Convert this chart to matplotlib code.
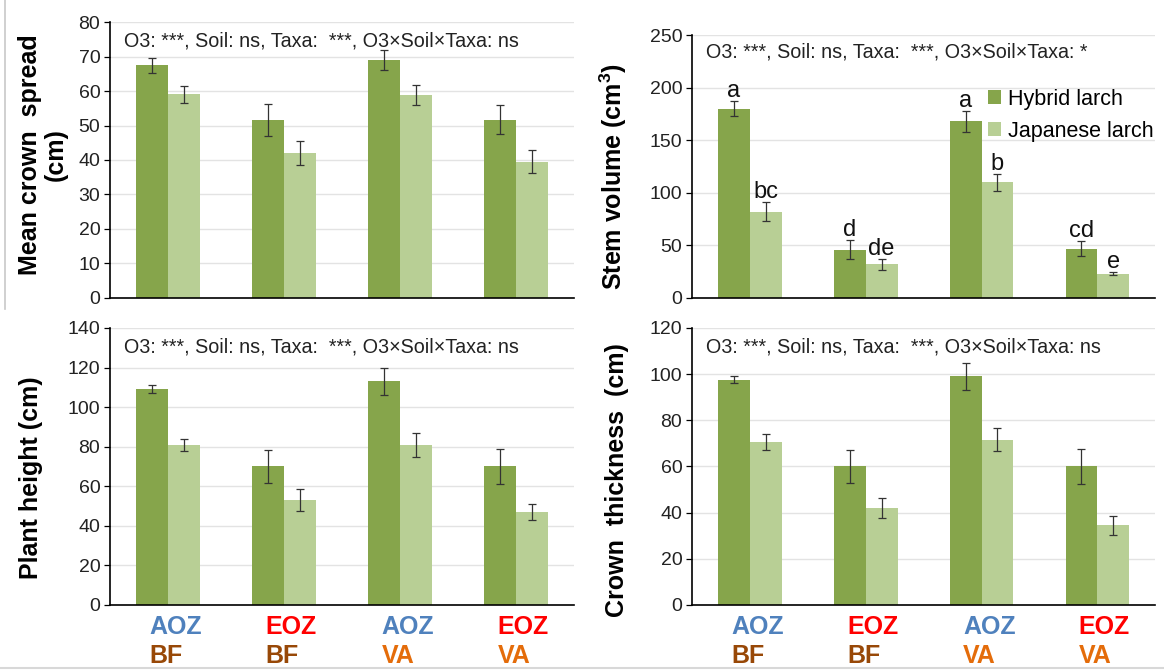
import matplotlib
matplotlib.use("Agg")
import matplotlib.pyplot as plt
from matplotlib.lines import Line2D
import numpy as np

plt.rcParams['font.family'] = ['Liberation Sans', 'DejaVu Sans']
plt.rcParams['mathtext.fontset'] = 'custom'
plt.rcParams['mathtext.rm'] = 'Liberation Sans'
plt.rcParams['mathtext.bf'] = 'Liberation Sans:bold'

groups = ["AOZ\nBF", "EOZ\nBF", "AOZ\nVA", "EOZ\nVA"]
o3_labels = ["AOZ", "EOZ", "AOZ", "EOZ"]
soil_labels = ["BF", "BF", "VA", "VA"]
series_names = ["Hybrid larch", "Japanese larch"]

# Mean crown spread (cm)
spread_hybrid = [67.5, 51.7, 69.0, 51.7]
spread_hybrid_err = [2.2, 4.6, 2.8, 4.3]
spread_japan = [59.0, 42.0, 58.8, 39.5]
spread_japan_err = [2.4, 3.5, 2.9, 3.4]

# Stem volume (cm3)
volume_hybrid = [180, 46, 168, 47]
volume_hybrid_err = [7, 9, 10, 7]
volume_japan = [82, 32, 110, 23]
volume_japan_err = [9, 5, 8, 1.5]
volume_letters_hybrid = ["a", "d", "a", "cd"]
volume_letters_japan = ["bc", "de", "b", "e"]

# Plant height (cm)
height_hybrid = [109, 70, 113, 70]
height_hybrid_err = [2, 8.5, 7, 9]
height_japan = [81, 53, 81, 47]
height_japan_err = [3, 5.5, 6, 4]

# Crown thickness (cm)
thick_hybrid = [97.5, 60, 99, 60]
thick_hybrid_err = [1.5, 7, 6, 7.5]
thick_japan = [70.5, 42, 71.5, 34.5]
thick_japan_err = [3.5, 4.5, 5, 4]

stats_texts = [
    "O3: ***, Soil: ns, Taxa:  ***, O3×Soil×Taxa: ns",
    "O3: ***, Soil: ns, Taxa:  ***, O3×Soil×Taxa: *",
    "O3: ***, Soil: ns, Taxa:  ***, O3×Soil×Taxa: ns",
    "O3: ***, Soil: ns, Taxa:  ***, O3×Soil×Taxa: ns",
]

C_H = "#86A54B"
C_J = "#B8CF95"
o3_colors = {"AOZ": "#4F81BD", "EOZ": "#FF0000"}
soil_colors = {"BF": "#984807", "VA": "#E46C0A"}

fig = plt.figure(figsize=(11.64, 6.71), dpi=100)

L1, L2, W = 0.0945, 0.5945, 0.399
axes_specs = [
    [L1, 0.5559, W, 0.4113],
    [L2, 0.5559, 0.398, 0.3919],
    [L1, 0.0984, W, 0.4128],
    [L2, 0.0984, 0.398, 0.4128],
]

panels = [
    (spread_hybrid, spread_hybrid_err, spread_japan, spread_japan_err, 80, 10,
     "Mean crown  spread\n(cm)", (-0.090, 0.52)),
    (volume_hybrid, volume_hybrid_err, volume_japan, volume_japan_err, 250, 50,
     "Stem volume (cm$^\\mathbf{3}$)", (-0.135, 0.46)),
    (height_hybrid, height_hybrid_err, height_japan, height_japan_err, 140, 20,
     "Plant height (cm)", (-0.145, 0.46)),
    (thick_hybrid, thick_hybrid_err, thick_japan, thick_japan_err, 120, 20,
     "Crown  thickness  (cm)", (-0.137, 0.45)),
]

x = np.arange(len(groups))
bw = 0.275

for i, (spec, panel) in enumerate(zip(axes_specs, panels)):
    h, he, j, je, ymax, step, ylabel, lpos = panel
    ax = fig.add_axes(spec)
    ax.set_axisbelow(True)
    ax.yaxis.grid(True, color="#E3E3E3", lw=1.0)
    eb = dict(ecolor="#333333", elinewidth=0.9, capsize=3, capthick=0.9)
    ax.bar(x - bw / 2, h, bw, color=C_H, yerr=he, error_kw=eb, label=series_names[0])
    ax.bar(x + bw / 2, j, bw, color=C_J, yerr=je, error_kw=eb, label=series_names[1])
    ax.set_xlim(-0.5, 3.5)
    ax.set_ylim(0, ymax)
    ax.set_yticks(np.arange(0, ymax + 1, step))
    ax.tick_params(axis="y", labelsize=14, length=4, width=0.9, colors="#000000", pad=3)
    ax.tick_params(axis="y", labelcolor="#222222")
    ax.set_xticks([])
    for s in ["top", "right"]:
        ax.spines[s].set_visible(False)
    for s in ["left", "bottom"]:
        ax.spines[s].set_color("#000000")
        ax.spines[s].set_linewidth(1.2)
    ax.set_ylabel(ylabel, fontsize=18, fontweight="bold", linespacing=1.1)
    ax.yaxis.set_label_coords(lpos[0], lpos[1])
    ax.text(0.03, 0.965 if i != 1 else 0.97, stats_texts[i], transform=ax.transAxes,
            fontsize=14.2, va="top", ha="left", color="#222222")

    if i == 1:
        for k in range(len(groups)):
            ax.text(x[k] - bw / 2, h[k] + he[k] + 4, volume_letters_hybrid[k],
                    ha="center", va="baseline", fontsize=17, color="#111111")
            ax.text(x[k] + bw / 2, j[k] + je[k] + 4, volume_letters_japan[k],
                    ha="center", va="baseline", fontsize=17, color="#111111")
        ax.legend(loc="center left", bbox_to_anchor=(0.62, 0.695), frameon=False,
                  fontsize=15.5, handlelength=0.6, handleheight=0.6,
                  handletextpad=0.35, labelspacing=0.5, borderaxespad=0)

    if i >= 2:
        tr = ax.get_xaxis_transform()
        for k in range(len(groups)):
            ax.text(x[k] - 0.16, -0.035, o3_labels[k], transform=tr, ha="left", va="top",
                    fontsize=18, fontweight="bold", color=o3_colors[o3_labels[k]])
            ax.text(x[k] - 0.16, -0.14, soil_labels[k], transform=tr, ha="left", va="top",
                    fontsize=18, fontweight="bold", color=soil_colors[soil_labels[k]])

# faint frame lines seen in the reference
fig.add_artist(Line2D([0.0045, 0.0045], [0.54, 1.0], color="#C8C8C8", lw=1.2, transform=fig.transFigure))
fig.add_artist(Line2D([0.0, 1.0], [0.005, 0.005], color="#D8D8D8", lw=1.5, transform=fig.transFigure))

fig.savefig("out.png", dpi=100)
